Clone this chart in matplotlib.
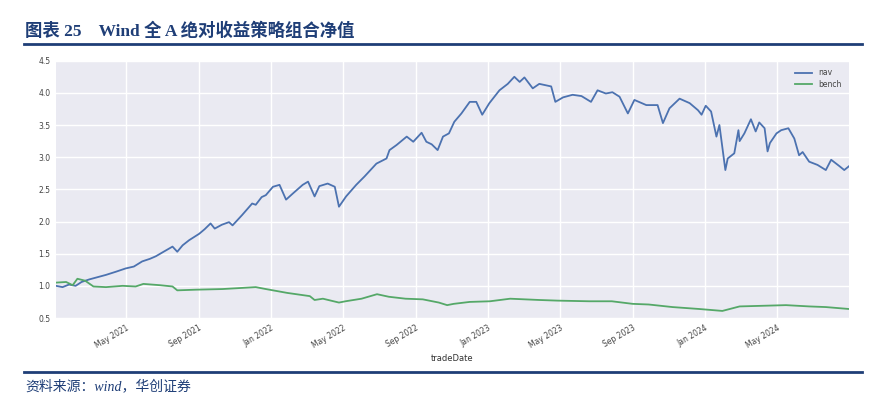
import matplotlib
matplotlib.use("Agg")
import matplotlib.pyplot as plt
import matplotlib.dates as mdates
import pandas as pd

# ---- data ----
nav_dates = ["2021-01-04", "2021-01-15", "2021-01-26", "2021-02-06", "2021-02-16", "2021-03-01",
             "2021-03-13", "2021-03-29", "2021-04-15", "2021-05-01", "2021-05-15", "2021-05-29",
             "2021-06-11", "2021-06-21", "2021-07-04", "2021-07-19", "2021-07-27", "2021-08-05",
             "2021-08-16", "2021-09-02", "2021-09-11", "2021-09-21", "2021-09-28", "2021-10-10",
             "2021-10-22", "2021-10-28", "2021-11-13", "2021-11-30", "2021-12-06", "2021-12-16",
             "2021-12-23", "2022-01-04", "2022-01-15", "2022-01-26", "2022-02-07", "2022-02-23",
             "2022-03-04", "2022-03-15", "2022-03-23", "2022-04-06", "2022-04-18", "2022-04-25",
             "2022-05-07", "2022-05-24", "2022-06-07", "2022-06-27", "2022-07-14", "2022-07-19",
             "2022-07-31", "2022-08-17", "2022-08-28", "2022-09-11", "2022-09-19", "2022-09-28",
             "2022-10-08", "2022-10-17", "2022-10-27", "2022-11-05", "2022-11-17", "2022-12-01",
             "2022-12-12", "2022-12-22", "2023-01-03", "2023-01-20", "2023-02-03", "2023-02-14",
             "2023-02-23", "2023-03-03", "2023-03-17", "2023-03-28", "2023-04-17", "2023-04-24",
             "2023-05-07", "2023-05-23", "2023-06-07", "2023-06-23", "2023-07-04", "2023-07-18",
             "2023-07-29", "2023-08-10", "2023-08-24", "2023-09-04", "2023-09-24", "2023-10-13",
             "2023-10-22", "2023-11-02", "2023-11-19", "2023-12-06", "2023-12-20", "2023-12-26",
             "2024-01-02", "2024-01-11", "2024-01-20", "2024-01-25", "2024-02-04", "2024-02-08",
             "2024-02-19", "2024-02-26", "2024-02-28", "2024-03-07", "2024-03-18", "2024-03-26",
             "2024-04-01", "2024-04-10", "2024-04-15", "2024-04-19", "2024-04-30", "2024-05-08",
             "2024-05-20", "2024-05-30", "2024-06-07", "2024-06-13", "2024-06-24", "2024-07-08",
             "2024-07-22", "2024-07-31", "2024-08-14", "2024-08-22", "2024-08-30"]
nav_values = [1.00, 0.98, 1.02, 1.00, 1.06, 1.10,
              1.13, 1.17, 1.22, 1.27, 1.30, 1.38,
              1.42, 1.46, 1.53, 1.61, 1.53, 1.63,
              1.71, 1.81, 1.88, 1.97, 1.89, 1.95,
              1.99, 1.94, 2.10, 2.28, 2.26, 2.38,
              2.41, 2.54, 2.57, 2.34, 2.44, 2.57,
              2.62, 2.39, 2.55, 2.59, 2.54, 2.23,
              2.39, 2.57, 2.70, 2.90, 2.98, 3.11,
              3.19, 3.32, 3.24, 3.38, 3.24, 3.20,
              3.11, 3.32, 3.37, 3.55, 3.68, 3.86,
              3.86, 3.66, 3.84, 4.04, 4.14, 4.25,
              4.17, 4.24, 4.07, 4.14, 4.10, 3.86,
              3.93, 3.97, 3.95, 3.86, 4.04, 3.99,
              4.01, 3.94, 3.68, 3.89, 3.81, 3.81,
              3.53, 3.76, 3.91, 3.84, 3.73, 3.66,
              3.80, 3.71, 3.32, 3.50, 2.80, 2.98,
              3.06, 3.42, 3.25, 3.37, 3.59, 3.40,
              3.54, 3.45, 3.09, 3.22, 3.37, 3.42,
              3.45, 3.29, 3.03, 3.08, 2.93, 2.88,
              2.80, 2.96, 2.86, 2.80, 2.86]

bench_dates = ["2021-01-04", "2021-01-21", "2021-02-01", "2021-02-09", "2021-02-22", "2021-03-08",
               "2021-03-29", "2021-04-26", "2021-05-18", "2021-05-31", "2021-06-28", "2021-07-19",
               "2021-07-27", "2021-08-27", "2021-10-11", "2021-12-06", "2021-12-23", "2022-01-28",
               "2022-03-07", "2022-03-15", "2022-03-29", "2022-04-25", "2022-05-06", "2022-06-02",
               "2022-06-28", "2022-07-18", "2022-08-15", "2022-09-13", "2022-10-10", "2022-10-24",
               "2022-11-04", "2022-12-01", "2023-01-04", "2023-02-07", "2023-03-28", "2023-04-28",
               "2023-06-20", "2023-07-28", "2023-09-01", "2023-09-28", "2023-11-07", "2023-12-22",
               "2024-01-30", "2024-02-28", "2024-05-16", "2024-06-24", "2024-07-22", "2024-08-30"]
bench_values = [1.05, 1.06, 1.01, 1.11, 1.08, 0.99,
                0.98, 1.00, 0.99, 1.03, 1.01, 0.99,
                0.93, 0.94, 0.95, 0.98, 0.95, 0.89,
                0.84, 0.78, 0.80, 0.74, 0.76, 0.80,
                0.87, 0.83, 0.80, 0.79, 0.74, 0.70,
                0.72, 0.75, 0.76, 0.80, 0.78, 0.77,
                0.76, 0.76, 0.72, 0.71, 0.67, 0.64,
                0.61, 0.68, 0.70, 0.68, 0.67, 0.64]

y_ticks = [0.5, 1.0, 1.5, 2.0, 2.5, 3.0, 3.5, 4.0, 4.5]
title_text = "图表 25    Wind 全 A 绝对收益策略组合净值"
source_text = "资料来源：wind，华创证券"

# ---- figure ----
W, H = 878, 397
fig = plt.figure(figsize=(W / 100, H / 100), dpi=100)
fig.patch.set_facecolor("white")

navy = "#1f3e77"
mixed = ["Liberation Serif", "Noto Sans CJK SC"]

fig.text(25 / W, 1 - 31 / H, title_text, family=mixed, fontsize=12.5, fontweight="bold",
         color=navy, va="center", ha="left")
fig.add_artist(plt.Line2D([24 / W, 862 / W], [1 - 44 / H, 1 - 44 / H], color=navy, lw=2.0,
                          transform=fig.transFigure))
fig.add_artist(plt.Line2D([24 / W, 862 / W], [1 - 372 / H, 1 - 372 / H], color=navy, lw=2.0,
                          transform=fig.transFigure))
fig.text(25 / W, 1 - 386 / H, source_text, family=mixed, fontsize=10, style="italic",
         color=navy, va="center", ha="left")

ax = fig.add_axes([56 / W, 1 - 318 / H, (849 - 56) / W, (318 - 60.7) / H])
ax.set_facecolor("#EAEAF2")
for s in ax.spines.values():
    s.set_visible(False)
ax.grid(True, color="white", lw=1.0)
ax.set_axisbelow(True)

nd = pd.to_datetime(nav_dates)
bd = pd.to_datetime(bench_dates)
ax.plot(nd, nav_values, color="#4C72B0", lw=1.3, label="nav")
ax.plot(bd, bench_values, color="#55A868", lw=1.3, label="bench")

ax.set_xlim(pd.Timestamp("2021-01-04"), pd.Timestamp("2024-08-30"))
ax.set_ylim(0.5, 4.5)
ax.set_yticks(y_ticks)
ax.set_yticklabels([f"{v:.1f}" for v in y_ticks])
ax.xaxis.set_major_locator(mdates.MonthLocator(bymonth=[1, 5, 9]))
ax.xaxis.set_major_formatter(mdates.DateFormatter("%b %Y"))
ax.tick_params(axis="both", length=0, labelsize=5.5, labelcolor="#444444", pad=4)
for lab in ax.get_xticklabels():
    lab.set_rotation(30)
    lab.set_ha("right")
    lab.set_rotation_mode("anchor")
ax.set_xlabel("tradeDate", fontsize=6, color="#333333", labelpad=3)

leg = ax.legend(loc="upper right", frameon=False, fontsize=5.5, handlelength=2.2,
                borderaxespad=0.6, labelspacing=0.3)
for t in leg.get_texts():
    t.set_color("#444444")

fig.savefig("out.png", dpi=100, facecolor="white")
